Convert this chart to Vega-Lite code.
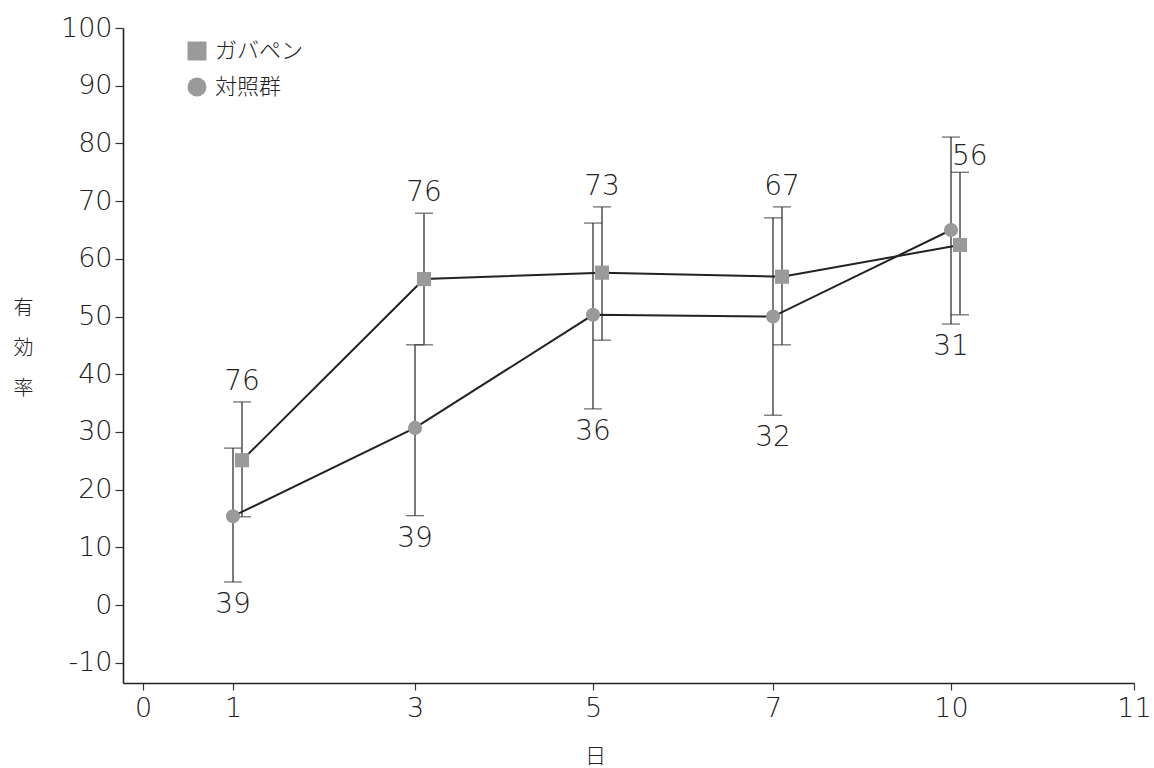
{
  "$schema": "https://vega.github.io/schema/vega-lite/v6.json",
  "width": 1011,
  "height": 655,
  "autosize": {"type": "none"},
  "padding": {"left": 123, "top": 28, "right": 20, "bottom": 85},
  "background": "white",
  "config": {
    "font": "Noto Sans CJK JP",
    "view": {"stroke": null},
    "axis": {
      "domainColor": "#222", "domainWidth": 1.6, "tickColor": "#333", "tickWidth": 1.2,
      "labelFont": "DejaVu Sans", "labelFontWeight": 200, "labelColor": "#222",
      "titleFont": "Noto Sans CJK JP", "titleFontWeight": 300, "titleColor": "#222",
      "grid": false
    }
  },
  "datasets": {
    "d": [
      {"group": "ガバペン", "day": 1, "value": 25.1, "lo": 15.3, "hi": 35.2, "n": 76},
      {"group": "ガバペン", "day": 3, "value": 56.5, "lo": 45.1, "hi": 67.9, "n": 76},
      {"group": "ガバペン", "day": 5, "value": 57.6, "lo": 45.9, "hi": 69.0, "n": 73},
      {"group": "ガバペン", "day": 7, "value": 56.9, "lo": 45.1, "hi": 69.0, "n": 67},
      {"group": "ガバペン", "day": 10, "value": 62.4, "lo": 50.3, "hi": 75.0, "n": 56},
      {"group": "対照群", "day": 1, "value": 15.4, "lo": 4.0, "hi": 27.2, "n": 39},
      {"group": "対照群", "day": 3, "value": 30.7, "lo": 15.5, "hi": 45.1, "n": 39},
      {"group": "対照群", "day": 5, "value": 50.3, "lo": 34.0, "hi": 66.2, "n": 36},
      {"group": "対照群", "day": 7, "value": 50.0, "lo": 32.9, "hi": 67.1, "n": 32},
      {"group": "対照群", "day": 10, "value": 65.0, "lo": 48.7, "hi": 81.1, "n": 31}
    ]
  },
  "data": {"name": "d"},
  "encoding": {
    "x": {
      "field": "day", "type": "quantitative",
      "scale": {"domain": [-0.222, 0, 1, 3, 5, 7, 10, 11], "range": [0, 20, 110, 292, 470, 650, 828, 1011], "nice": false, "zero": false},
      "axis": {"values": [0, 1, 3, 5, 7, 10, 11], "title": "日", "titleFontSize": 21, "titleX": 472, "titleY": 62, "titleAnchor": "middle", "labelFontSize": 27, "tickSize": 7, "labelPadding": 5, "labelFlush": false}
    },
    "y": {
      "type": "quantitative",
      "scale": {"domain": [-13.5, 100], "nice": false, "zero": false},
      "axis": {"values": [-10, 0, 10, 20, 30, 40, 50, 60, 70, 80, 90, 100], "labelExpr": "replace(datum.label, '−', '-')", "title": ["有", "効", "率"], "titleAngle": 0, "titleFontSize": 20, "titleLineHeight": 40, "titleX": -100, "titleY": 280, "titleAlign": "center", "titleBaseline": "middle", "labelFontSize": 27, "tickSize": 8, "labelPadding": 3}
    }
  },
  "layer": [
    {
      "transform": [{"filter": "datum.group == '対照群'"}],
      "mark": {"type": "rule", "color": "#333", "strokeWidth": 1.3},
      "encoding": {"y": {"field": "lo"}, "y2": {"field": "hi"}}
    },
    {
      "transform": [{"filter": "datum.group == '対照群'"}],
      "mark": {"type": "tick", "orient": "horizontal", "color": "#333", "thickness": 1.3, "size": 18},
      "encoding": {"y": {"field": "lo"}}
    },
    {
      "transform": [{"filter": "datum.group == '対照群'"}],
      "mark": {"type": "tick", "orient": "horizontal", "color": "#333", "thickness": 1.3, "size": 18},
      "encoding": {"y": {"field": "hi"}}
    },
    {
      "transform": [{"filter": "datum.group == 'ガバペン'"}],
      "mark": {"type": "rule", "color": "#333", "strokeWidth": 1.3, "xOffset": 9},
      "encoding": {"y": {"field": "lo"}, "y2": {"field": "hi"}}
    },
    {
      "transform": [{"filter": "datum.group == 'ガバペン'"}],
      "mark": {"type": "tick", "orient": "horizontal", "color": "#333", "thickness": 1.3, "size": 18, "xOffset": 9},
      "encoding": {"y": {"field": "lo"}}
    },
    {
      "transform": [{"filter": "datum.group == 'ガバペン'"}],
      "mark": {"type": "tick", "orient": "horizontal", "color": "#333", "thickness": 1.3, "size": 18, "xOffset": 9},
      "encoding": {"y": {"field": "hi"}}
    },
    {
      "transform": [{"filter": "datum.group == '対照群'"}],
      "mark": {"type": "line", "color": "#222", "strokeWidth": 2},
      "encoding": {"y": {"field": "value"}}
    },
    {
      "transform": [{"filter": "datum.group == 'ガバペン'"}],
      "mark": {"type": "line", "color": "#222", "strokeWidth": 2, "xOffset": 9},
      "encoding": {"y": {"field": "value"}}
    },
    {
      "transform": [{"filter": "datum.group == '対照群'"}],
      "mark": {"type": "point", "filled": true, "size": 200, "opacity": 1, "color": "#9a9a9a"},
      "encoding": {
        "y": {"field": "value"},
        "shape": {"field": "group", "type": "nominal", "scale": {"domain": ["ガバペン", "対照群"], "range": ["square", "circle"]},
          "legend": {"orient": "none", "legendX": 63, "legendY": 12, "title": null, "labelFontSize": 22, "labelFont": "Noto Sans CJK JP", "labelFontWeight": 300, "labelColor": "#222", "symbolSize": 360, "symbolFillColor": "#9a9a9a", "symbolStrokeColor": "#9a9a9a", "symbolType": "circle", "rowPadding": 10, "labelOffset": 7}}
      }
    },
    {
      "transform": [{"filter": "datum.group == 'ガバペン'"}],
      "mark": {"type": "point", "filled": true, "size": 200, "opacity": 1, "color": "#9a9a9a", "xOffset": 9},
      "encoding": {
        "y": {"field": "value"},
        "shape": {"field": "group", "type": "nominal"}
      }
    },
    {
      "transform": [{"filter": "datum.group == 'ガバペン' && datum.day != 10"}],
      "mark": {"type": "text", "font": "DejaVu Sans", "fontSize": 28, "fontWeight": 200, "color": "#222", "xOffset": 9, "dy": -20, "baseline": "middle", "align": "center"},
      "encoding": {"y": {"field": "hi"}, "text": {"field": "n"}}
    },
    {
      "transform": [{"filter": "datum.group == 'ガバペン' && datum.day == 10"}],
      "mark": {"type": "text", "font": "DejaVu Sans", "fontSize": 28, "fontWeight": 200, "color": "#222", "dx": 1, "dy": -15, "baseline": "middle", "align": "left"},
      "encoding": {"y": {"field": "hi"}, "text": {"field": "n"}}
    },
    {
      "transform": [{"filter": "datum.group == '対照群'"}],
      "mark": {"type": "text", "font": "DejaVu Sans", "fontSize": 28, "fontWeight": 200, "color": "#222", "dy": 23, "baseline": "middle", "align": "center"},
      "encoding": {"y": {"field": "lo"}, "text": {"field": "n"}}
    }
  ]
}
